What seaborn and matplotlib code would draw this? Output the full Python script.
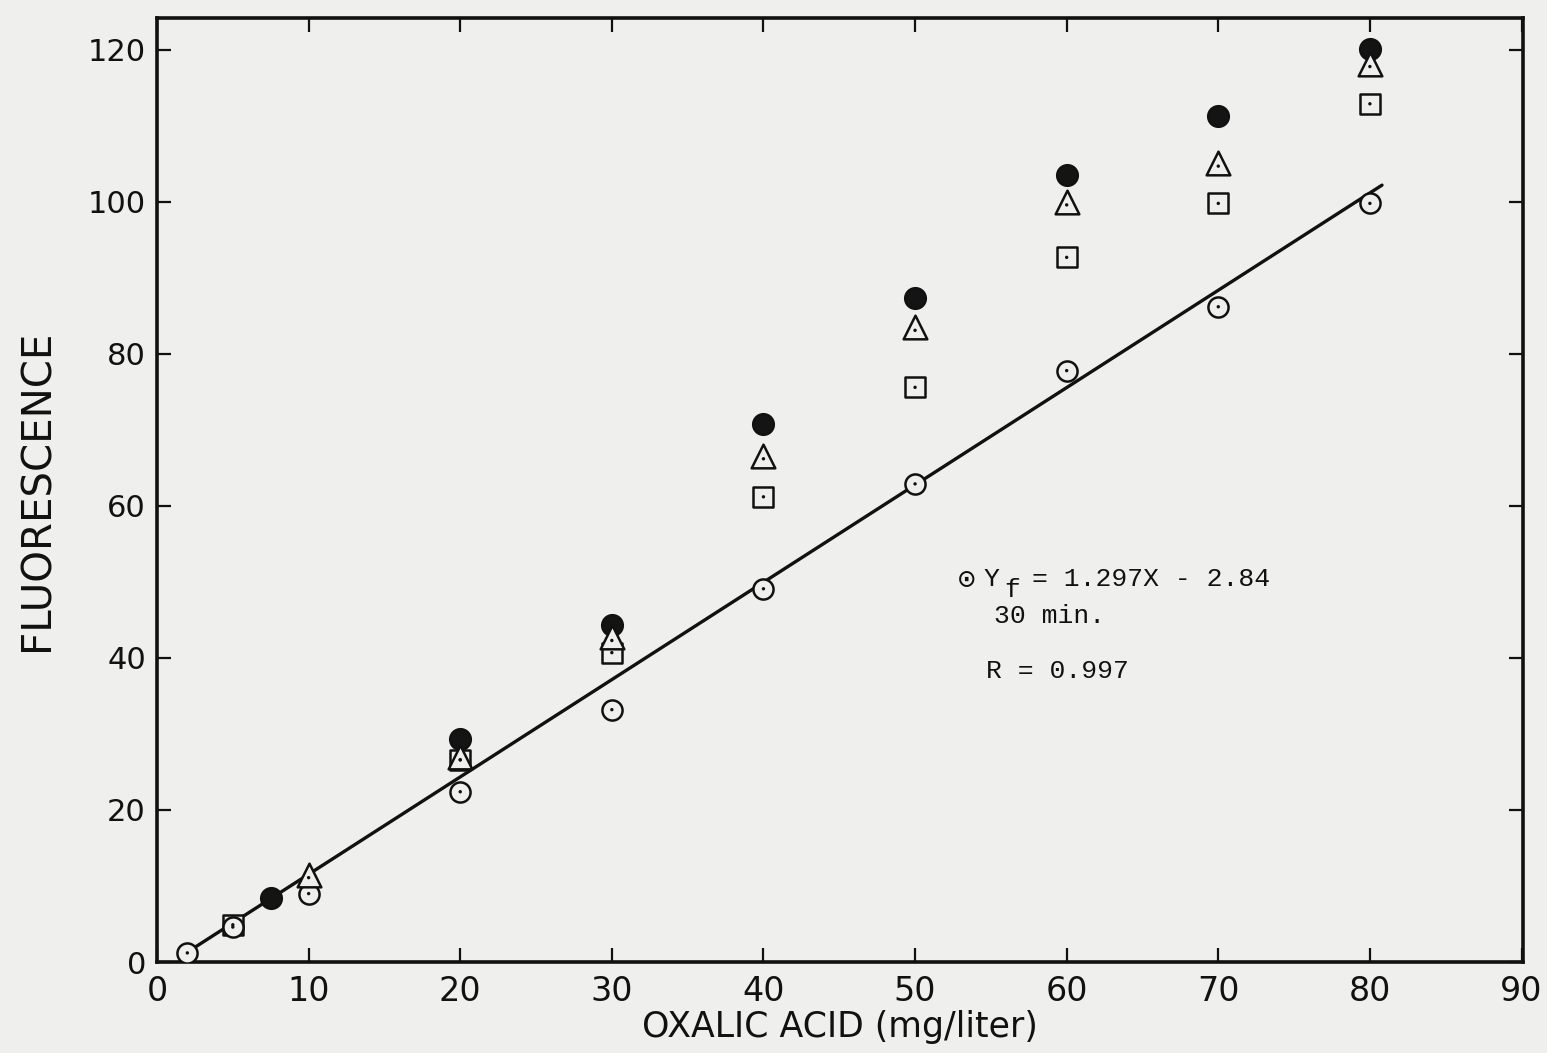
import matplotlib
matplotlib.use("Agg")
import matplotlib.pyplot as plt
import seaborn as sns

# ---- data ----
open_x = [2, 5, 10, 20, 30, 40, 50, 60, 70, 80]
open_y = [1.2, 4.6, 9.0, 22.4, 33.2, 49.1, 62.9, 77.8, 86.2, 99.8]

filled_x = [7.5, 20, 30, 40, 50, 60, 70, 80]
filled_y = [8.4, 29.4, 44.3, 70.8, 87.3, 103.5, 111.3, 120.1]

tri_x = [10, 20, 30, 40, 50, 60, 70, 80]
tri_y = [11.5, 27.0, 42.7, 66.6, 83.5, 100.0, 105.1, 118.2]

sq_x = [5, 20, 30, 40, 50, 60, 70, 80]
sq_y = [4.9, 26.6, 40.7, 61.2, 75.6, 92.7, 99.8, 112.9]

fit_x = [2.0, 80.8]
fit_y = [1.3, 102.2]

x_ticks = [0, 10, 20, 30, 40, 50, 60, 70, 80, 90]
y_ticks = [0, 20, 40, 60, 80, 100, 120]

paper = "#efefed"
ink = "#111111"

sns.set_style("ticks")
plt.rcParams["font.family"] = ["DejaVu Sans"]
plt.rcParams["text.color"] = ink
plt.rcParams["axes.labelcolor"] = ink
plt.rcParams["xtick.color"] = ink
plt.rcParams["ytick.color"] = ink

fig = plt.figure(figsize=(15.47, 10.53), dpi=100, facecolor=paper)
ax = fig.add_axes([0.1015, 0.0864, 0.883, 0.8966])
ax.set_facecolor(paper)

# fit line
sns.lineplot(x=fit_x, y=fit_y, ax=ax, color=ink, linewidth=2.4, zorder=2)

# markers
mk_lw = 1.8
sns.scatterplot(x=open_x, y=open_y, ax=ax, marker="o", s=210,
                facecolor=paper, edgecolor=ink, linewidth=mk_lw, zorder=4)
sns.scatterplot(x=filled_x, y=filled_y, ax=ax, marker="o", s=220,
                color="#141414", edgecolor=ink, linewidth=mk_lw, zorder=4)
sns.scatterplot(x=tri_x, y=tri_y, ax=ax, marker="^", s=290,
                facecolor=paper, edgecolor=ink, linewidth=mk_lw, zorder=5)
sns.scatterplot(x=sq_x, y=sq_y, ax=ax, marker="s", s=190,
                facecolor=paper, edgecolor=ink, linewidth=mk_lw, zorder=3)

# center dots
for xs, ys, off in [(open_x, open_y, 0.0), (tri_x, tri_y, -0.4), (sq_x, sq_y, 0.0)]:
    sns.scatterplot(x=xs, y=[v + off for v in ys], ax=ax, marker="o", s=6,
                    color=ink, edgecolor="none", zorder=6)

ax.set_xlim(0, 90.1)
ax.set_ylim(0, 124.2)
ax.set_xticks(x_ticks)
ax.set_yticks(y_ticks)

for s in ax.spines.values():
    s.set_visible(True)
    s.set_linewidth(2.6)
    s.set_color(ink)

ax.tick_params(axis="both", direction="in", length=10, width=1.6, color=ink,
               top=True, right=True)
ax.tick_params(axis="x", pad=9)
ax.tick_params(axis="y", pad=8)

for lab in ax.get_xticklabels():
    lab.set_family(["DejaVu Sans"])
    lab.set_fontsize(24)
for lab in ax.get_yticklabels():
    lab.set_family(["DejaVu Sans"])
    lab.set_fontsize(22)

ax.set_xlabel("OXALIC ACID (mg/liter)", fontsize=25, family=["DejaVu Sans"],
              labelpad=2)
ax.set_ylabel("FLUORESCENCE", fontsize=29, family=["DejaVu Sans"], labelpad=22)

mono = ["Liberation Mono", "DejaVu Sans Mono"]
fs = 19
ax.text(53.4, 50.4, "\u2299", fontsize=fs + 2, family=["DejaVu Sans Mono", "DejaVu Sans"],
        ha="center", va="center")
ax.text(54.5, 50.4, "Y", fontsize=fs, family=mono, ha="left", va="center")
ax.text(55.9, 48.9, "f", fontsize=fs, family=mono, ha="left", va="center")
ax.text(57.7, 50.4, "= 1.297X - 2.84", fontsize=fs, family=mono, ha="left", va="center")
ax.text(55.2, 45.5, "30 min.", fontsize=fs, family=mono, ha="left", va="center")
ax.text(54.7, 38.3, "R = 0.997", fontsize=fs, family=mono, ha="left", va="center")

fig.savefig("out.png", dpi=100, facecolor=paper)
